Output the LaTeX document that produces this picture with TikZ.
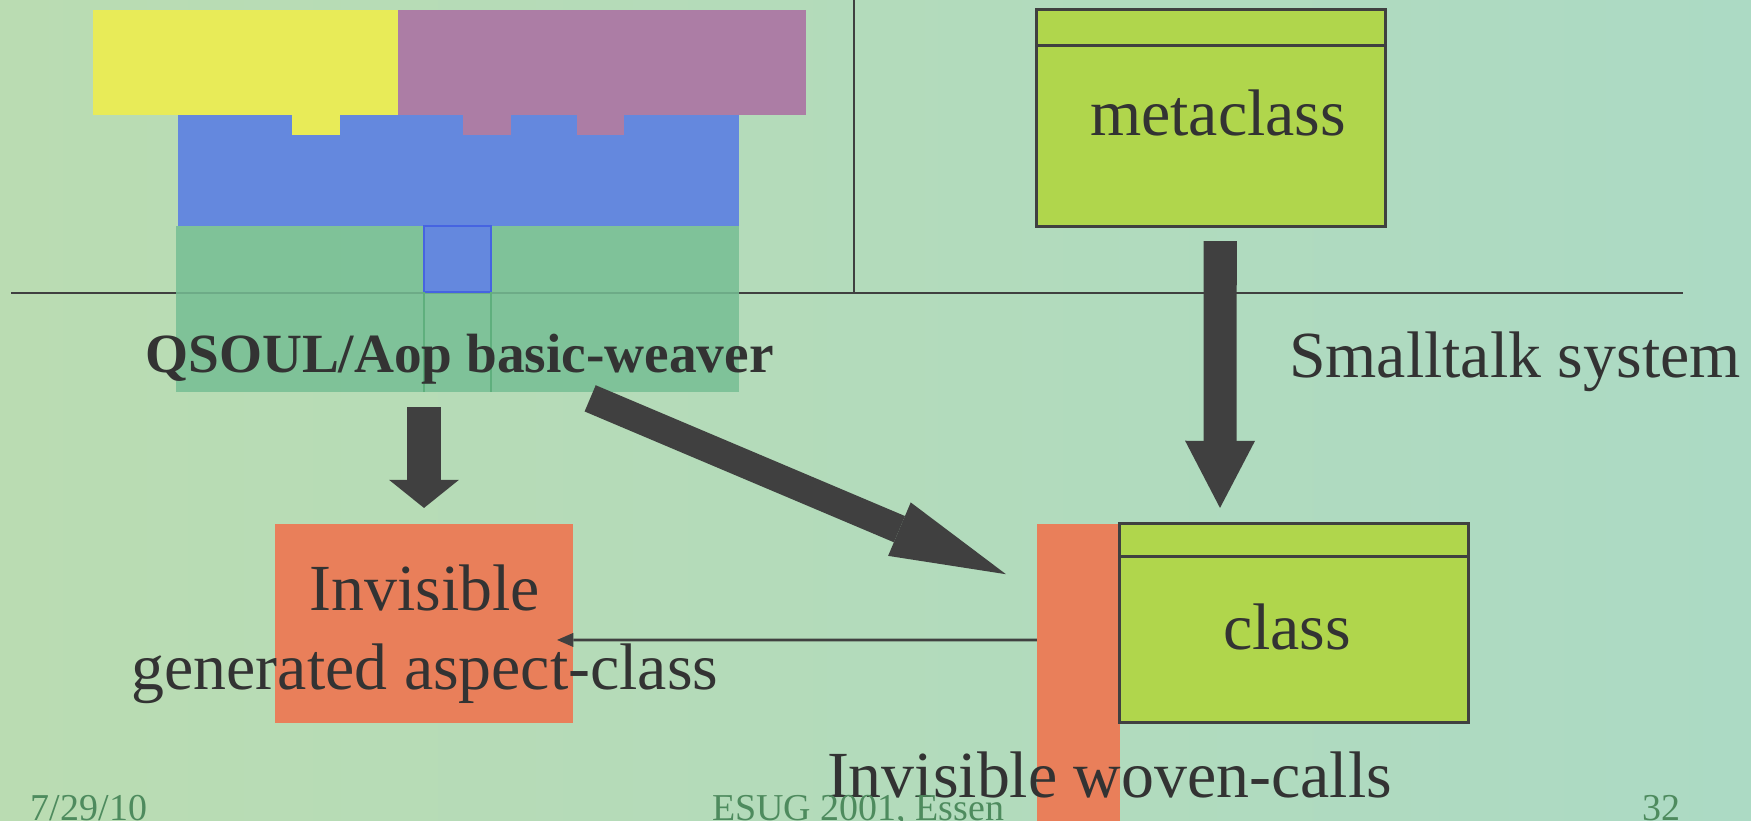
\documentclass[tikz,border=0pt]{standalone}
\usepackage{fontspec}
\setmainfont{Liberation Serif}
\usetikzlibrary{arrows.meta,calc}
\definecolor{bgL}{RGB}{186,220,178}
\definecolor{bgM}{RGB}{206,226,182}
\definecolor{bgR}{RGB}{172,218,196}
\definecolor{yel}{RGB}{232,235,88}
\definecolor{pur}{RGB}{172,125,165}
\definecolor{blu}{RGB}{100,136,222}
\definecolor{bluB}{RGB}{70,100,225}
\definecolor{grn}{RGB}{118,190,148}
\definecolor{grnL}{RGB}{95,175,125}
\definecolor{org}{RGB}{233,127,90}
\definecolor{lime}{RGB}{176,214,76}
\definecolor{dk}{RGB}{64,64,64}
\definecolor{txt}{RGB}{51,51,51}
\definecolor{foot}{RGB}{78,139,94}
\tikzset{
  blk/.style={inner sep=0pt, outer sep=0pt},
  umlbox/.style={blk, draw=dk, line width=0.85pt, fill=lime},
  orgbox/.style={blk, fill=org},
  maintxt/.style={inner sep=0pt, outer sep=0pt, text=txt, font=\fontsize{18.72}{22}\selectfont},
  boldtxt/.style={inner sep=0pt, outer sep=0pt, text=txt, font=\bfseries\fontsize{15.73}{18}\selectfont},
  foottxt/.style={inner sep=0pt, outer sep=0pt, text=foot, font=\fontsize{10.8}{13}\selectfont},
  sepline/.style={draw=dk, line width=0.7pt},
  bigarrow/.style={draw=dk, line width=9.4pt, -{Triangle[length=19.1pt,width=19.9pt,line width=0pt]}},
  shortarrow/.style={draw=dk, line width=9.4pt, -{Triangle[length=8pt,width=19.9pt,line width=0pt]}},
  diagarrow/.style={draw=dk, line width=8.1pt, -{Triangle[length=32.9pt,width=16.5pt,line width=0pt]}},
  thinarrow/.style={draw=dk, line width=0.8pt, -{Triangle[length=4.6pt,width=4pt,line width=0pt]}}
}
\begin{document}
\begin{tikzpicture}[x=0.01cm,y=-0.01cm]
\useasboundingbox (0,0) rectangle (1751,821);
\shade[left color=bgL, middle color=bgM, right color=bgR] (0,0) rectangle (1751,821);
% separators
\draw[sepline] (11,293) -- (1683,293);
\draw[sepline] (854,0) -- (854,293);
% top cluster
\fill[yel] (93,10) rectangle (398,115);
\fill[pur] (398,10) rectangle (806,115);
\fill[blu] (178,115) rectangle (739,226);
\fill[yel] (292,115) rectangle (340,135);
\fill[pur] (463,115) rectangle (511,135);
\fill[pur] (577,115) rectangle (624,135);
\node[blk, fill=grn, fill opacity=0.85, minimum width=5.63cm, minimum height=1.66cm] (weaver) at (457.5,309) {};
\fill[blu, draw=bluB, line width=0.4pt] (424,226) rectangle (491,292);
\draw[grnL, line width=0.4pt] (424,292) -- (424,392) (491,292) -- (491,392);
\node[boldtxt, anchor=base] (weavertxt) at (459.5,372) {QSOUL/Aop basic-weaver};
% metaclass
\node[umlbox, minimum width=3.485cm, minimum height=2.16cm] (metabox) at (1211.25,118) {};
\draw[draw=dk, line width=0.85pt] ($(metabox.north west)+(0,36)$) -- ($(metabox.north east)+(0,36)$);
\node[maintxt, anchor=base] (metatxt) at (1218,135) {metaclass};
\node[maintxt, anchor=base west] (smalltalk) at (1289,377) {Smalltalk system};
% lower boxes
\node[orgbox, minimum width=2.98cm, minimum height=1.99cm] (aspect) at (424,623.5) {};
\node[orgbox, minimum width=0.83cm, minimum height=2.97cm] (woven) at (1078.5,672.5) {};
\node[umlbox, minimum width=3.48cm, minimum height=1.98cm] (classbox) at (1294,623) {};
\draw[draw=dk, line width=0.85pt] ($(classbox.north west)+(0,33)$) -- ($(classbox.north east)+(0,33)$);
\node[maintxt, anchor=base] (classtxt) at (1287,649) {class};
% connectors
\draw[bigarrow] ($(metabox.south)+(9,15)$) -- ($(classbox.north)+(-74,-16)$);
\draw[shortarrow] ($(aspect.north |- weaver.south)+(0,15)$) -- ($(aspect.north)+(0,-16)$);
\draw[diagarrow] ($(weaver.south east)+(-149,6.3)$) -- ($(woven.north west)+(-31,50.3)$);
\draw[thinarrow] ($(woven.north west)+(0,116)$) -- ($(aspect.north east)+(-16,116)$);
% labels
\node[maintxt, anchor=base] (inv1) at (425,610) {Invisible};
\node[maintxt, anchor=base] (inv2) at (425,689) {generated aspect-class};
\node[maintxt, anchor=base] (woventxt) at (1109.5,797) {Invisible woven-calls};
% footer
\node[foottxt, anchor=base west] (date) at (31,820) {7/29/10};
\node[foottxt, anchor=base west] (conf) at (712,820) {ESUG 2001, Essen};
\node[foottxt, anchor=base east] (page) at (1680,820) {32};
\end{tikzpicture}
\end{document}
